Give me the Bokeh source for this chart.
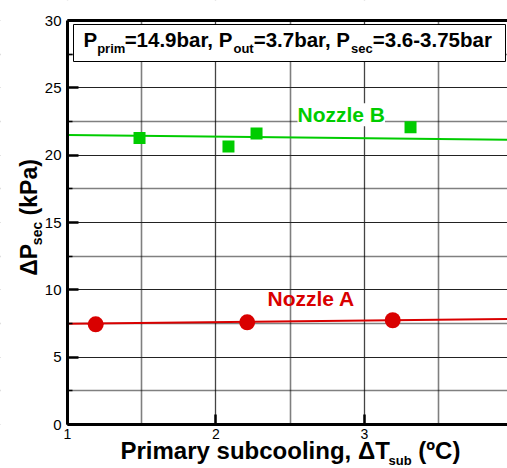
import math
from bokeh.plotting import figure
from bokeh.models import (Range1d, FixedTicker, LinearAxis, Label, BoxAnnotation)
from bokeh.embed import file_html
from bokeh.resources import INLINE

# ---------------- data ----------------
nozzle_a_x = [1.19, 2.21, 3.19]
nozzle_a_y = [7.44, 7.59, 7.74]
nozzle_a_fit_x = [1.0, 3.963]
nozzle_a_fit_y = [7.49, 7.83]

nozzle_b_x = [1.485, 2.084, 2.273, 3.31]
nozzle_b_y = [21.28, 20.65, 21.6, 22.07]
nozzle_b_fit_x = [1.0, 3.963]
nozzle_b_fit_y = [21.49, 21.15]

x_ticks = [1, 2, 3]
x_minor = [1.5, 2.5, 3.5]
y_ticks = [0, 5, 10, 15, 20, 25, 30]
y_minor = [2.5, 7.5, 12.5, 17.5, 22.5, 27.5]

# ---------------- layout ----------------
W, H = 507, 468
FL, FR, FT, FB = 67, 507, 20, 424          # plot box in pixels
X0, X1, Y0, Y1 = 1.0, 3.963, 0.0, 30.0     # plot box in data units
BASE_K = 0.37                              # baseline correction (fraction of font size)

def X(px):
    return X0 + (px - FL) / (FR - FL) * (X1 - X0)

def Y(py):
    return Y1 - (py - FT) / (FB - FT) * (Y1 - Y0)

AB = {'P': .667, 'r': .389, 'i': .278, 'm': .889, 'a': .556, 'y': .556, ' ': .278,
      's': .556, 'u': .611, 'b': .611, 'c': .556, 'o': .611, 'l': .278, 'n': .611,
      'g': .611, ',': .278, 'Δ': .667, 'T': .611, '(': .333, ')': .333, 'º': .365,
      'C': .722, 'e': .556, 'k': .556, '=': .584, '.': .278, '-': .333, 't': .333}

def tw(s, size):
    return sum(AB.get(ch, .556) for ch in s) * size

FONT = "Liberation Sans"
GREEN = "#00cc00"
RED = "#d90000"

p = figure(width=W, height=H, output_backend="svg", toolbar_location=None,
           x_range=Range1d(X(0), X(W)), y_range=Range1d(Y(H), Y(0)),
           min_border=0, min_border_left=0, min_border_right=0,
           min_border_top=0, min_border_bottom=0, outline_line_color=None,
           background_fill_color="white", border_fill_color="white")

# grids
p.xgrid.ticker = FixedTicker(ticks=x_ticks, minor_ticks=x_minor)
p.xgrid.grid_line_color = "#444444"
p.xgrid.grid_line_width = 1.3
p.xgrid.minor_grid_line_color = "black"
p.xgrid.minor_grid_line_dash = "1 1"
p.xgrid.minor_grid_line_width = 1.6

p.ygrid.ticker = FixedTicker(ticks=y_ticks, minor_ticks=y_minor)
p.ygrid.grid_line_color = "#222222"
p.ygrid.grid_line_width = 1.2
p.ygrid.minor_grid_line_color = "black"
p.ygrid.minor_grid_line_dash = "1 1"
p.ygrid.minor_grid_line_width = 1.6

# white masks outside the plot box (keep grid lines inside the box)
masks = [dict(left=X(-20), right=X0, bottom=Y(H + 20), top=Y(-20)),
         dict(left=X(-20), right=X(W + 20), bottom=Y(H + 20), top=Y0),
         dict(left=X(-20), right=X(W + 20), bottom=Y1, top=Y(-20))]
for kw in masks:
    p.add_layout(BoxAnnotation(fill_color="white", fill_alpha=1.0, line_color=None,
                               level="underlay", **kw))

# axes placed at the plot box edges
xa = p.xaxis[0]
xa.fixed_location = Y0
xa.bounds = (X0, X1)
xa.ticker = FixedTicker(ticks=x_ticks, minor_ticks=x_minor)
xa.axis_line_width = 3
xa.axis_line_color = "black"
xa.major_tick_in = 10
xa.major_tick_out = 0
xa.major_tick_line_width = 2.5
xa.minor_tick_in = 0
xa.minor_tick_out = 0
xa.major_label_text_font = FONT
xa.major_label_text_font_size = "14px"
xa.major_label_text_color = "black"
xa.major_label_standoff = 4

ya = p.yaxis[0]
ya.fixed_location = X0
ya.bounds = (Y0, Y1)
ya.ticker = FixedTicker(ticks=y_ticks, minor_ticks=y_minor)
ya.axis_line_width = 3
ya.axis_line_color = "black"
ya.major_tick_in = 11
ya.major_tick_out = 0
ya.major_tick_line_width = 2.5
ya.minor_tick_in = 5
ya.minor_tick_out = 0
ya.minor_tick_line_width = 1.5
ya.major_label_text_font = FONT
ya.major_label_text_font_size = "15px"
ya.major_label_text_color = "black"
ya.major_label_standoff = 6

top = LinearAxis(ticker=FixedTicker(ticks=[]), fixed_location=Y1, bounds=(X0, X1),
                 major_label_text_font_size="0px", axis_line_width=3,
                 axis_line_color="black", major_tick_in=0, major_tick_out=0,
                 minor_tick_in=0, minor_tick_out=0, major_label_standoff=0)
p.add_layout(top, "above")

# data
p.line(nozzle_b_fit_x, nozzle_b_fit_y, line_color=GREEN, line_width=2)
p.scatter(nozzle_b_x, nozzle_b_y, marker="square", size=12, fill_color=GREEN, line_color=None)
p.line(nozzle_a_fit_x, nozzle_a_fit_y, line_color=RED, line_width=2)
p.scatter(nozzle_a_x, nozzle_a_y, marker="circle", size=16, fill_color=RED, line_color=None)


def label(text, px, base, size, color="black", angle=0.0, bg=None):
    """Place a bold text with its baseline at pixel position."""
    if angle:
        kw = dict(x=X(px - BASE_K * size), y=Y(base))
    else:
        kw = dict(x=X(px), y=Y(base - BASE_K * size))
    if bg:
        kw.update(background_fill_color=bg, background_fill_alpha=1.0)
    p.add_layout(Label(text=text, angle=angle, text_font=FONT, text_font_style="bold",
                       text_font_size=f"{size}px", text_color=color,
                       text_baseline="alphabetic", text_align="left", **kw))


label("Nozzle B", 297, 122, 21, GREEN, bg="white")
label("Nozzle A", 267, 306, 21, RED)

# title box
p.add_layout(BoxAnnotation(left=X(73), right=X(505), top=Y(24), bottom=Y(61),
                           fill_color="white", fill_alpha=1.0, line_color="black",
                           line_width=1, line_alpha=1.0))


def inline_text(parts, x_start, base_main, base_sub, main_size, sub_size):
    x = x_start
    for s, is_sub in parts:
        size = sub_size if is_sub else main_size
        lead = len(s) - len(s.lstrip(" "))
        x += tw(" " * lead, size)
        s = s.lstrip(" ")
        label(s, x, base_sub if is_sub else base_main, size)
        x += tw(s, size)


inline_text([("P", False), ("prim", True), ("=14.9bar, P", False), ("out", True),
             ("=3.7bar, P", False), ("sec", True), ("=3.6-3.75bar", False)],
            83, 47, 53, 20.5, 13)

# x axis title
inline_text([("Primary subcooling, ΔT", False), ("sub", True), (" (ºC)", False)],
            120, 459, 465, 24, 13)

# y axis title (rotated, reads bottom to top)
y_parts = [("ΔP", False), ("sec", True), (" (kPa)", False)]
ymain, ysub = 23, 14
total = sum(tw(s, ysub if sb else ymain) for s, sb in y_parts)
ypos = 217 + total / 2
for s, sb in y_parts:
    size = ysub if sb else ymain
    lead = len(s) - len(s.lstrip(" "))
    ypos -= tw(" " * lead, size)
    s = s.lstrip(" ")
    label(s, 42 if sb else 37, ypos, size, angle=math.pi / 2)
    ypos -= tw(s, size)

open("out.html", "w").write(file_html(p, INLINE))
